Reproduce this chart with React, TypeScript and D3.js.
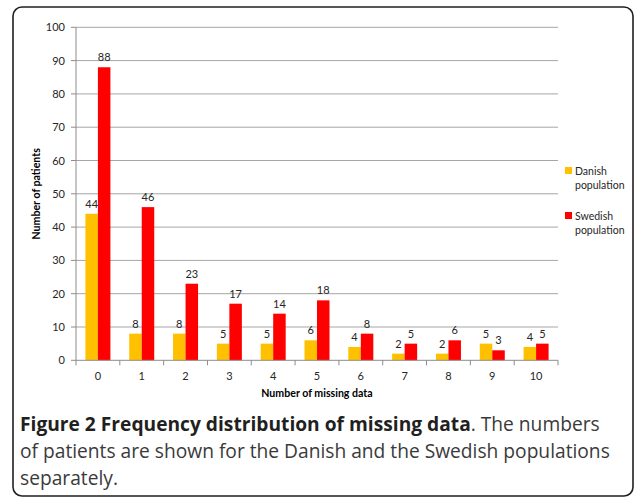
import React from "react";
import * as d3 from "d3";

const categories = ["0", "1", "2", "3", "4", "5", "6", "7", "8", "9", "10"];
const danish = [44, 8, 8, 5, 5, 6, 4, 2, 2, 5, 4];
const swedish = [88, 46, 23, 17, 14, 18, 8, 5, 6, 3, 5];
const yTicks = [0, 10, 20, 30, 40, 50, 60, 70, 80, 90, 100];
const seriesNames = ["Danish", "Swedish"];
const seriesColors = ["#FFC000", "#FF0000"];

const W = 634;
const H = 497;
const left = 76;
const right = 558;
const top = 27.3;
const bottom = 360.3;

export default function App() {
  const x = d3.scaleBand().domain(categories).range([left, right]).paddingInner(0).paddingOuter(0);
  const y = d3.scaleLinear().domain([0, 100]).range([bottom, top]);
  const barW = 12.5;
  const chartFont = "Lato, 'Open Sans', sans-serif";
  const series = [danish, swedish];

  return (
    <svg width={W} height={H} style={{ position: "absolute", left: 0, top: 0 }}>
      <rect x={0} y={0} width={W} height={H} fill="#fff" />
      <rect x={13} y={7} width={620} height={489} rx={9} ry={9} fill="none" stroke="#231f20" strokeWidth={1.6} />
      {/* grid */}
      {yTicks.map((t) => (
        <g key={t}>
          {t > 0 && <line x1={left} x2={right} y1={y(t)} y2={y(t)} stroke="#a6a6a6" strokeWidth={1} />}
          <line x1={left - 5} x2={left} y1={y(t)} y2={y(t)} stroke="#8c8c8c" strokeWidth={1} />
          <text x={left - 11} y={y(t) + 4} textAnchor="end" fontFamily={chartFont} fontSize={11} fill="#262626">
            {t}
          </text>
        </g>
      ))}
      <line x1={left} x2={left} y1={top} y2={bottom} stroke="#8c8c8c" strokeWidth={1} />
      {/* bars */}
      {categories.map((c, i) => {
        const cx = (x(c) as number) + x.bandwidth() / 2;
        return (
          <g key={c}>
            {series.map((s, k) => {
              const bx = cx - barW + k * barW;
              return (
                <g key={k}>
                  <rect x={bx} y={y(s[i])} width={barW} height={bottom - y(s[i])} fill={seriesColors[k]} />
                  <text x={bx + barW / 2} y={y(s[i]) - 6} textAnchor="middle" fontFamily={chartFont} fontSize={11} fill="#262626">
                    {s[i]}
                  </text>
                </g>
              );
            })}
            <text x={cx} y={380} textAnchor="middle" fontFamily={chartFont} fontSize={11} fill="#262626">
              {c}
            </text>
          </g>
        );
      })}
      <line x1={left} x2={right} y1={bottom} y2={bottom} stroke="#8c8c8c" strokeWidth={1} />
      {categories.map((c) => (
        <line key={"t" + c} x1={x(c) as number} x2={x(c) as number} y1={bottom} y2={bottom + 5} stroke="#8c8c8c" />
      ))}
      <line x1={right} x2={right} y1={bottom} y2={bottom + 5} stroke="#8c8c8c" />
      {/* axis titles */}
      <text x={(left + right) / 2} y={397} textAnchor="middle" fontFamily={chartFont} fontWeight="bold" fontSize={10.6} fill="#000">
        Number of missing data
      </text>
      <text transform={`translate(40,${(top + bottom) / 2}) rotate(-90)`} textAnchor="middle" fontFamily={chartFont} fontWeight="bold" fontSize={10.6} fill="#000">
        Number of patients
      </text>
      {/* legend */}
      {seriesNames.map((n, k) => (
        <g key={n} transform={`translate(565,${167 + k * 45})`}>
          <rect x={0} y={0} width={7} height={7} fill={seriesColors[k]} />
          <text x={10} y={7.5} fontFamily={chartFont} fontSize={10.5} fill="#262626">{n}</text>
          <text x={10} y={21.5} fontFamily={chartFont} fontSize={10.5} fill="#262626">population</text>
        </g>
      ))}
      {/* caption */}
      <g fontFamily="'Open Sans', sans-serif" fontSize={19.2} fill="#3a3a3a" fontWeight={400}>
        <text x={20} y={431}>
          <tspan fontWeight="bold" fill="#231f20">Figure 2 Frequency distribution of missing data</tspan>
          <tspan>. The numbers</tspan>
        </text>
        <text x={20} y={458}>of patients are shown for the Danish and the Swedish populations</text>
        <text x={20} y={485}>separately.</text>
      </g>
    </svg>
  );
}
